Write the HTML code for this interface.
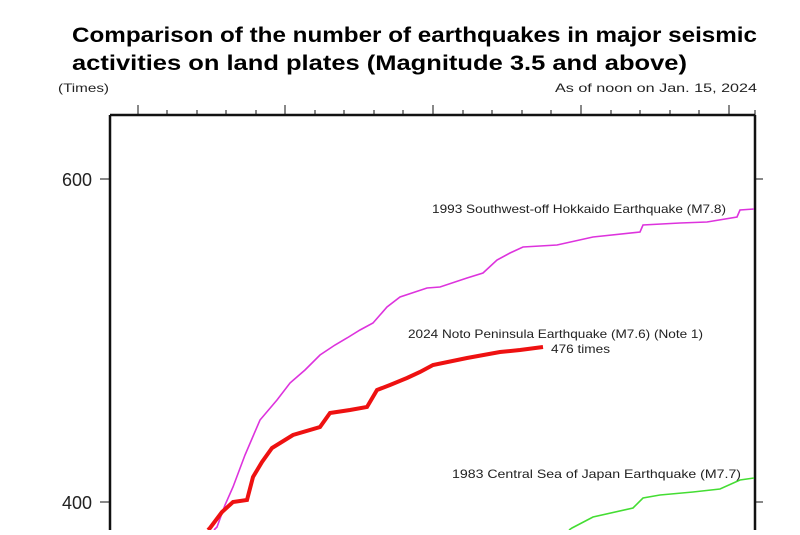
<!DOCTYPE html>
<html><head><meta charset="utf-8"><style>
body{margin:0;width:800px;height:530px;overflow:hidden;background:#fff;font-family:"Liberation Sans",sans-serif}
</style></head><body>
<svg width="800" height="530" xmlns="http://www.w3.org/2000/svg" font-family="Liberation Sans, sans-serif">
<text x="72" y="42" font-size="21" font-weight="bold" fill="#000" textLength="685" lengthAdjust="spacingAndGlyphs">Comparison of the number of earthquakes in major seismic</text>
<text x="72" y="70" font-size="21" font-weight="bold" fill="#000" textLength="615" lengthAdjust="spacingAndGlyphs">activities on land plates (Magnitude 3.5 and above)</text>
<text x="58" y="92" font-size="12" fill="#222" textLength="51" lengthAdjust="spacingAndGlyphs">(Times)</text>
<text x="555" y="92" font-size="12" fill="#222" textLength="202" lengthAdjust="spacingAndGlyphs">As of noon on Jan. 15, 2024</text>
<path d="M110,115 H755 M110,115 V530 M755,115 V530" stroke="#111" stroke-width="2.5" fill="none"/>
<g stroke="#111" stroke-width="1">
<path d="M138,115v-10M167,115v-5M197,115v-5M226,115v-5M256,115v-5M285,115v-10M315,115v-5M344,115v-5M374,115v-5M403,115v-5M433,115v-10M463,115v-5M492,115v-5M522,115v-5M551,115v-5M581,115v-10M611,115v-5M640,115v-5M670,115v-5M699,115v-5M729,115v-10M755,115v-5"/>
<path d="M100,179h10M755,179h8M100,502h10M755,502h8"/>
</g>
<text x="92" y="186" font-size="18" fill="#222" text-anchor="end">600</text>
<text x="92" y="509" font-size="18" fill="#222" text-anchor="end">400</text>
<polyline fill="none" stroke="#dd33dd" stroke-width="1.6" points="214,530 217,527 225,505 233,487 245,455 260,420 277,400 290,383 305,370 320,355 335,345 347,338 360,330 373,323 387,307 400,297 427,288 440,287 467,278 483,273 497,260 510,253 523,247 557,245 593,237 640,232 643,225 680,223 707,222 737,217 740,210 754,209"/>
<polyline fill="none" stroke="#ee1111" stroke-width="4" points="208,530 210,528 222,512 233,502 247,500 253,477 262,462 272,448 293,435 320,427 330,413 350,410 367,407 377,390 390,385 407,378 420,372 433,365 467,358 500,352 520,350 543,347"/>
<polyline fill="none" stroke="#44dd33" stroke-width="1.6" points="569,530 572,528 593,517 633,508 643,498 660,495 693,492 720,489 740,480 754,478"/>
<text x="432" y="213" font-size="12" fill="#222" textLength="294" lengthAdjust="spacingAndGlyphs">1993 Southwest-off Hokkaido Earthquake (M7.8)</text>
<text x="408" y="338" font-size="12" fill="#222" textLength="295" lengthAdjust="spacingAndGlyphs">2024 Noto Peninsula Earthquake (M7.6) (Note 1)</text>
<text x="551" y="353" font-size="12" fill="#222" textLength="59" lengthAdjust="spacingAndGlyphs">476 times</text>
<text x="452" y="478" font-size="12" fill="#222" textLength="289" lengthAdjust="spacingAndGlyphs">1983 Central Sea of Japan Earthquake (M7.7)</text>
</svg>
</body></html>
